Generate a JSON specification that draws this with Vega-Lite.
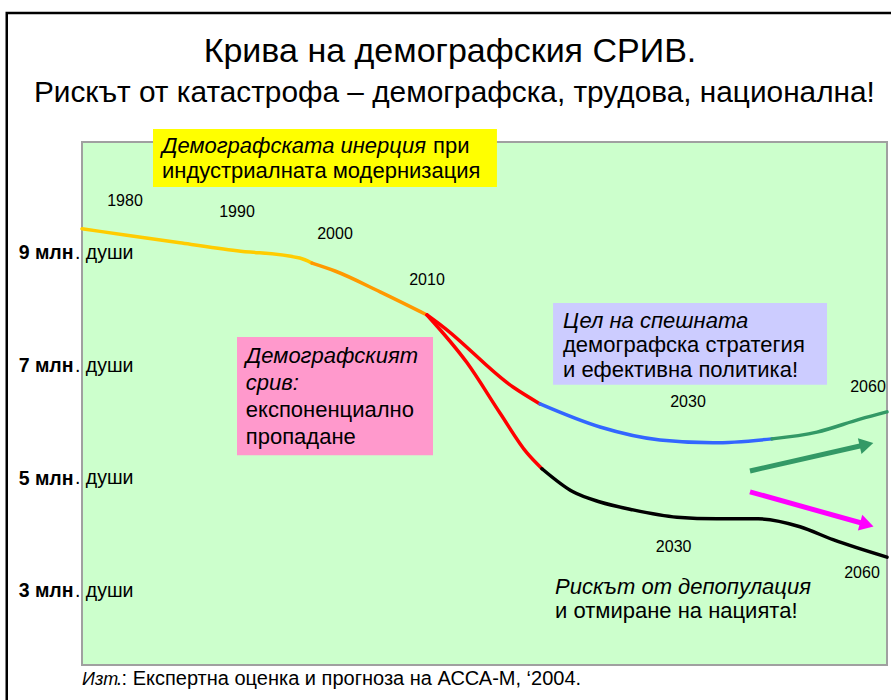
{
  "$schema": "https://vega.github.io/schema/vega-lite/v6.json",
  "width": 805,
  "height": 523,
  "autosize": {"type": "none"},
  "padding": {"left": 82, "top": 142, "right": 4, "bottom": 35},
  "background": "white",
  "view": {"fill": "#CCFFCC", "stroke": "#A0A0A0", "strokeWidth": 2},
  "config": {"font": "Liberation Sans"},
  "datasets": {
    "frame": [{"year": 1969.0, "year2": 2080, "mln": 13.26, "mln2": 0}],
    "heading": [
      {"kind": "title", "year": 2011.76, "mln": 12.39, "text": "Крива на демографския СРИВ."},
      {"kind": "subtitle", "year": 2012.1, "mln": 11.68, "text": "Рискът от катастрофа – демографска, трудова, национална!"}
    ],
    "boxes": [
      {"box": "inertia", "year": 1982.5, "year2": 2015.36, "mln": 11.2, "mln2": 10.17},
      {"box": "collapse", "year": 1990, "year2": 2010.46, "mln": 7.51, "mln2": 5.41},
      {"box": "goal", "year": 2019.66, "year2": 2053.17, "mln": 8.11, "mln2": 6.66}
    ],
    "curve": [
      {"seg": "a", "year": 1976, "mln": 9.43},
      {"seg": "a", "year": 1980, "mln": 9.32},
      {"seg": "a", "year": 1984.9, "mln": 9.18},
      {"seg": "a", "year": 1990, "mln": 9.04},
      {"seg": "a", "year": 1996.4, "mln": 8.91},
      {"seg": "a", "year": 1997.65, "mln": 8.82},
      {"seg": "b", "year": 1997.65, "mln": 8.82},
      {"seg": "b", "year": 2000, "mln": 8.68},
      {"seg": "b", "year": 2004.9, "mln": 8.31},
      {"seg": "b", "year": 2010, "mln": 7.9},
      {"seg": "c", "year": 2010, "mln": 7.9},
      {"seg": "c", "year": 2011.23, "mln": 7.69},
      {"seg": "c", "year": 2016.59, "mln": 6.62},
      {"seg": "c", "year": 2018.66, "mln": 6.32},
      {"seg": "d", "year": 2018.66, "mln": 6.32},
      {"seg": "d", "year": 2023.26, "mln": 5.91},
      {"seg": "d", "year": 2027.85, "mln": 5.68},
      {"seg": "d", "year": 2034.17, "mln": 5.63},
      {"seg": "d", "year": 2044.0, "mln": 5.7},
      {"seg": "e", "year": 2044.0, "mln": 5.7},
      {"seg": "e", "year": 2051.5, "mln": 5.82},
      {"seg": "e", "year": 2058.67, "mln": 6.05},
      {"seg": "e", "year": 2064, "mln": 6.18},
      {"seg": "f", "year": 2010, "mln": 7.9},
      {"seg": "f", "year": 2013.07, "mln": 7.05},
      {"seg": "f", "year": 2015.59, "mln": 6.16},
      {"seg": "f", "year": 2017.66, "mln": 5.45},
      {"seg": "f", "year": 2018.81, "mln": 5.17},
      {"seg": "g", "year": 2018.81, "mln": 5.17},
      {"seg": "g", "year": 2021.19, "mln": 4.76},
      {"seg": "g", "year": 2023.26, "mln": 4.58},
      {"seg": "g", "year": 2025.79, "mln": 4.44},
      {"seg": "g", "year": 2029.16, "mln": 4.31},
      {"seg": "g", "year": 2034.83, "mln": 4.28},
      {"seg": "g", "year": 2041.67, "mln": 4.28},
      {"seg": "g", "year": 2048.67, "mln": 4.14},
      {"seg": "g", "year": 2054.17, "mln": 3.91},
      {"seg": "g", "year": 2064, "mln": 3.6}
    ],
    "arrows": [
      {"seg": "up", "part": "tail", "year": 2040.33, "mln": 5.13},
      {"seg": "up", "part": "head", "year": 2059.75, "mln": 5.6},
      {"seg": "down", "part": "tail", "year": 2040.33, "mln": 4.76},
      {"seg": "down", "part": "head", "year": 2059.8, "mln": 4.18}
    ],
    "years": [
      {"year": 1980, "mln": 9.92, "text": "1980"},
      {"year": 1990, "mln": 9.73, "text": "1990"},
      {"year": 2000, "mln": 9.34, "text": "2000"},
      {"year": 2010, "mln": 8.52, "text": "2010"},
      {"year": 2030, "mln": 6.355, "text": "2030"},
      {"year": 2060, "mln": 6.62, "text": "2060"},
      {"year": 2028.9, "mln": 3.78, "text": "2030"},
      {"year": 2059, "mln": 3.32, "text": "2060"}
    ],
    "ticks": [
      {"year": 1976, "mln": 3},
      {"year": 1976, "mln": 5},
      {"year": 1976, "mln": 7},
      {"year": 1976, "mln": 9}
    ],
    "notes": [
      {"kind": "emph", "year": 1983.3, "mln": 10.78, "text": "Демографската инерция"},
      {"kind": "plain", "year": 2010.46, "mln": 10.78, "text": "при"},
      {"kind": "plain", "year": 1983.3, "mln": 10.33, "text": "индустриалната модернизация"},
      {"kind": "emph", "year": 1990.9, "mln": 7.05, "text": "Демографският"},
      {"kind": "emph", "year": 1990.9, "mln": 6.57, "text": "срив:"},
      {"kind": "plain", "year": 1990.9, "mln": 6.09, "text": "експоненциално"},
      {"kind": "plain", "year": 1990.9, "mln": 5.61, "text": "пропадане"},
      {"kind": "emph", "year": 2020.42, "mln": 7.67, "text": "Цел на спешната"},
      {"kind": "plain", "year": 2020.42, "mln": 7.24, "text": "демографска стратегия"},
      {"kind": "plain", "year": 2020.42, "mln": 6.8, "text": "и ефективна политика!"},
      {"kind": "emph", "year": 2019.81, "mln": 2.95, "text": "Рискът от депопулация"},
      {"kind": "plain", "year": 2019.81, "mln": 2.52, "text": "и отмиране на нацията!"}
    ],
    "source": [
      {"kind": "emph", "year": 1976, "mln": 1.33, "text": "Изт"},
      {"kind": "plain", "year": 1979.16, "mln": 1.33, "text": ".:  Експертна оценка и прогноза на АССА-М, ‘2004."}
    ]
  },
  "encoding": {
    "x": {
      "field": "year",
      "type": "quantitative",
      "scale": {
        "domain": [1976, 1980, 1990, 2000, 2010, 2030, 2060, 2064],
        "range": [0, 43, 155, 253, 345, 606, 786, 805],
        "nice": false,
        "zero": false
      },
      "axis": null
    },
    "y": {
      "field": "mln",
      "type": "quantitative",
      "scale": {"domain": [1.686, 10.97], "nice": false, "zero": false},
      "axis": {
        "values": [3, 5, 7, 9],
        "labelExpr": "datum.value + ' млн'",
        "labelFont": "Liberation Sans",
        "labelFontSize": 19.5,
        "labelFontWeight": "bold",
        "labelColor": "black",
        "labelPadding": 9,
        "ticks": false,
        "domain": false,
        "grid": false,
        "title": null
      }
    }
  },
  "layer": [
    {
      "data": {"name": "frame"},
      "mark": {"type": "rect", "fill": null, "stroke": "black", "strokeWidth": 2.5},
      "encoding": {"x2": {"field": "year2"}, "y2": {"field": "mln2"}}
    },
    {
      "data": {"name": "heading"},
      "transform": [{"filter": "datum.kind == 'title'"}],
      "mark": {"type": "text", "fontSize": 34, "align": "center", "baseline": "alphabetic", "color": "black"},
      "encoding": {"text": {"field": "text"}}
    },
    {
      "data": {"name": "heading"},
      "transform": [{"filter": "datum.kind == 'subtitle'"}],
      "mark": {"type": "text", "fontSize": 29.8, "align": "center", "baseline": "alphabetic", "color": "black"},
      "encoding": {"text": {"field": "text"}}
    },
    {
      "data": {"name": "boxes"},
      "mark": {"type": "rect"},
      "encoding": {
        "x2": {"field": "year2"},
        "y2": {"field": "mln2"},
        "fill": {
          "field": "box",
          "type": "nominal",
          "scale": {"domain": ["inertia", "collapse", "goal"], "range": ["#FFFF00", "#FF99CC", "#CCCCFF"]},
          "legend": null
        }
      }
    },
    {
      "data": {"name": "curve"},
      "mark": {"type": "line", "strokeWidth": 3.5, "strokeCap": "round", "interpolate": "monotone"},
      "encoding": {
        "color": {
          "field": "seg",
          "type": "nominal",
          "scale": {
            "domain": ["a", "b", "c", "d", "e", "f", "g", "up", "down"],
            "range": ["#FFCC00", "#FF9900", "#FF0000", "#3366FF", "#339966", "#FF0000", "#000000", "#339966", "#FF00FF"]
          },
          "legend": null
        },
        "order": {"field": "year", "type": "quantitative"}
      }
    },
    {
      "data": {"name": "arrows"},
      "mark": {"type": "line", "strokeWidth": 5},
      "encoding": {
        "color": {"field": "seg", "type": "nominal", "legend": null}
      }
    },
    {
      "data": {"name": "arrows"},
      "transform": [{"filter": "datum.seg == 'up' && datum.part == 'head'"}],
      "mark": {"type": "point", "shape": "triangle-right", "filled": true, "opacity": 1, "size": 260, "angle": -13, "color": "#339966"},
      "encoding": {}
    },
    {
      "data": {"name": "arrows"},
      "transform": [{"filter": "datum.seg == 'down' && datum.part == 'head'"}],
      "mark": {"type": "point", "shape": "triangle-right", "filled": true, "opacity": 1, "size": 260, "angle": 15.7, "color": "#FF00FF"},
      "encoding": {}
    },
    {
      "data": {"name": "years"},
      "mark": {"type": "text", "fontSize": 16, "align": "center", "baseline": "middle", "color": "black"},
      "encoding": {"text": {"field": "text"}}
    },
    {
      "data": {"name": "ticks"},
      "mark": {"type": "text", "fontSize": 19.5, "align": "left", "baseline": "middle", "dx": -7, "color": "black"},
      "encoding": {"text": {"value": ". души"}}
    },
    {
      "data": {"name": "notes"},
      "transform": [{"filter": "datum.kind == 'emph'"}],
      "mark": {"type": "text", "fontSize": 22, "fontStyle": "italic", "align": "left", "baseline": "alphabetic", "color": "black"},
      "encoding": {"text": {"field": "text"}}
    },
    {
      "data": {"name": "notes"},
      "transform": [{"filter": "datum.kind == 'plain'"}],
      "mark": {"type": "text", "fontSize": 22, "align": "left", "baseline": "alphabetic", "color": "black"},
      "encoding": {"text": {"field": "text"}}
    },
    {
      "data": {"name": "source"},
      "transform": [{"filter": "datum.kind == 'emph'"}],
      "mark": {"type": "text", "fontSize": 18, "fontStyle": "italic", "align": "left", "baseline": "alphabetic", "color": "black"},
      "encoding": {"text": {"field": "text"}}
    },
    {
      "data": {"name": "source"},
      "transform": [{"filter": "datum.kind == 'plain'"}],
      "mark": {"type": "text", "fontSize": 20, "align": "left", "baseline": "alphabetic", "color": "black"},
      "encoding": {"text": {"field": "text"}}
    }
  ]
}
